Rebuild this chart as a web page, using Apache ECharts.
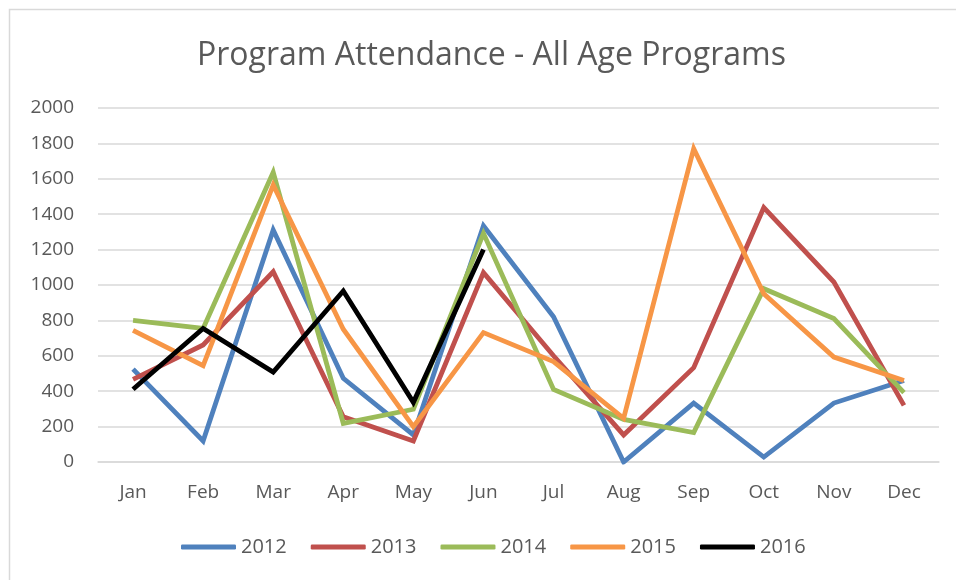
<!DOCTYPE html>
<html>
<head>
<meta charset="utf-8">
<script src="https://cdn.jsdelivr.net/npm/echarts@6/dist/echarts.min.js"></script>
<style>
  html, body { margin: 0; padding: 0; background: #fff; }
  #chart { width: 956px; height: 580px; }
</style>
</head>
<body>
<div id="chart"></div>
<script>
// 月份和各年数据
var months = ['Jan', 'Feb', 'Mar', 'Apr', 'May', 'Jun', 'Jul', 'Aug', 'Sep', 'Oct', 'Nov', 'Dec'];
var years = ['2012', '2013', '2014', '2015', '2016'];
var data2012 = [525, 119, 1311, 473, 153, 1335, 821, 0, 333, 28, 333, 460];
var data2013 = [467, 661, 1075, 256, 119, 1070, 600, 153, 533, 1437, 1017, 320];
var data2014 = [800, 755, 1637, 218, 298, 1292, 410, 241, 166, 979, 810, 392];
var data2015 = [744, 544, 1565, 750, 200, 731, 567, 247, 1770, 951, 593, 461];
var data2016 = [411, 755, 508, 966, 337, 1201];
var yTicks = [0, 200, 400, 600, 800, 1000, 1200, 1400, 1600, 1800, 2000];
var colors = ['#4F81BD', '#C0504D', '#9BBB59', '#F79646', '#000000'];

var myChart = echarts.init(document.getElementById('chart'));
var font = '"Open Sans", sans-serif';

function makeSeries(name, values, color) {
    return {
        name: name,
        type: 'line',
        data: values,
        symbol: 'none',
        lineStyle: { width: 4.8, color: color, join: 'miter' },
        itemStyle: { color: color },
        animation: false
    };
}

var option = {
    backgroundColor: '#fff',
    textStyle: { fontFamily: font },
    graphic: [{
        type: 'polyline',
        shape: { points: [[9.5, 580], [9.5, 9.5], [956, 9.5]] },
        style: { stroke: '#d9d9d9', lineWidth: 1.5, fill: null }
    }],
    title: {
        text: 'Program Attendance - All Age Programs',
        left: 192,
        top: 35,
        textStyle: { fontFamily: font, fontSize: 32, fontWeight: 'normal', color: '#595959' }
    },
    legend: {
        data: years,
        bottom: 18,
        left: 176,
        itemWidth: 55,
        itemHeight: 5,
        itemGap: 24,
        icon: 'roundRect',
        textStyle: { fontFamily: font, fontSize: 20, color: '#595959' }
    },
    grid: { left: 98, right: 17, top: 108, bottom: 118 },
    xAxis: {
        type: 'category',
        data: months,
        boundaryGap: true,
        axisLine: { show: true, lineStyle: { color: '#d9d9d9', width: 1.5 } },
        axisTick: { show: false },
        axisLabel: { fontFamily: font, fontSize: 19, color: '#595959', margin: 21 }
    },
    yAxis: {
        type: 'value',
        min: yTicks[0],
        max: yTicks[yTicks.length - 1],
        interval: 200,
        axisLine: { show: false },
        axisTick: { show: false },
        axisLabel: {
            fontFamily: font, fontSize: 19, color: '#595959', margin: 24,
            formatter: function (v) { return String(v); }
        },
        splitLine: { lineStyle: { color: '#d9d9d9', width: 1.5 } }
    },
    series: [
        makeSeries(years[0], data2012, colors[0]),
        makeSeries(years[1], data2013, colors[1]),
        makeSeries(years[2], data2014, colors[2]),
        makeSeries(years[3], data2015, colors[3]),
        makeSeries(years[4], data2016, colors[4])
    ]
};
myChart.setOption(option);
</script>
</body>
</html>
